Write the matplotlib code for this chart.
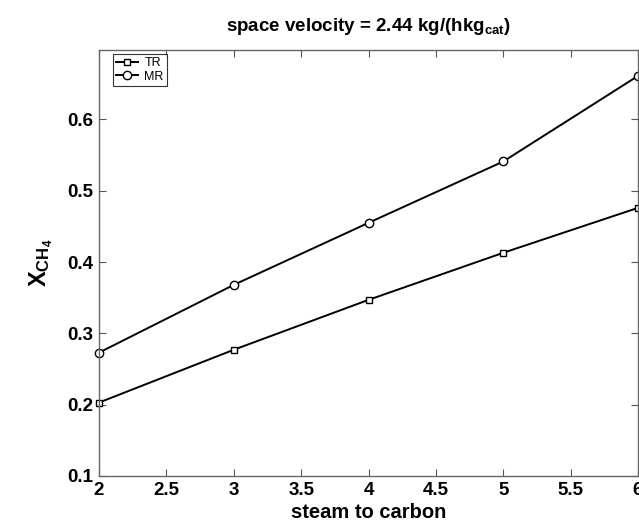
import matplotlib
matplotlib.use("Agg")
import matplotlib.pyplot as plt

plt.rcParams['font.family'] = ['Liberation Sans', 'DejaVu Sans']
plt.rcParams['mathtext.fontset'] = 'custom'
plt.rcParams['mathtext.rm'] = 'Liberation Sans'
plt.rcParams['mathtext.bf'] = 'Liberation Sans:bold'
plt.rcParams['mathtext.it'] = 'Liberation Sans:italic'

steam_to_carbon = [2, 3, 4, 5, 6]
tr_values = [0.203, 0.277, 0.347, 0.413, 0.476]
mr_values = [0.273, 0.368, 0.455, 0.541, 0.661]
xticks = [2, 2.5, 3, 3.5, 4, 4.5, 5, 5.5, 6]
xticklabels = ['2', '2.5', '3', '3.5', '4', '4.5', '5', '5.5', '6']
yticks = [0.1, 0.2, 0.3, 0.4, 0.5, 0.6]
yticklabels = ['0.1', '0.2', '0.3', '0.4', '0.5', '0.6']

fig = plt.figure(figsize=(6.39, 5.29), dpi=100)
ax = fig.add_axes([0.155, 0.1002, 0.8435, 0.8062])

ax.plot(steam_to_carbon, tr_values, color='black', lw=1.4, marker='s',
        markersize=4.5, markerfacecolor='white', markeredgecolor='black',
        markeredgewidth=1.0, label='TR', clip_on=False)
ax.plot(steam_to_carbon, mr_values, color='black', lw=1.4, marker='o',
        markersize=6, markerfacecolor='white', markeredgecolor='black',
        markeredgewidth=1.0, label='MR', clip_on=False)

ax.set_xlim(2, 6)
ax.set_ylim(0.1, 0.698)
ax.set_xticks(xticks)
ax.set_xticklabels(xticklabels, fontsize=13.5, fontweight='bold')
ax.set_yticks(yticks)
ax.set_yticklabels(yticklabels, fontsize=13.5, fontweight='bold')
ax.tick_params(direction='in', length=5, width=0.8, color='#555555',
               top=True, right=True, pad=4)

for sp in ax.spines.values():
    sp.set_color('#666666')
    sp.set_linewidth(1.0)

ax.set_title(r'space velocity = 2.44 kg/(hkg$_{\mathbf{cat}}$)',
             fontsize=13.5, fontweight='bold', pad=13)
ax.set_xlabel('steam to carbon', fontsize=14.5, fontweight='bold', labelpad=3)
ax.set_ylabel(r'$\mathbf{X}_{\mathbf{CH}_{\mathbf{4}}}$', fontsize=17,
              labelpad=9)

leg = ax.legend(loc='upper left', bbox_to_anchor=(0.025, 0.99), fontsize=9,
                frameon=True, fancybox=False, edgecolor='black',
                handlelength=1.8, handletextpad=0.5, borderpad=0.25,
                labelspacing=0.15, borderaxespad=0.0)
leg.get_frame().set_linewidth(0.8)

fig.savefig('out.png', dpi=100)
